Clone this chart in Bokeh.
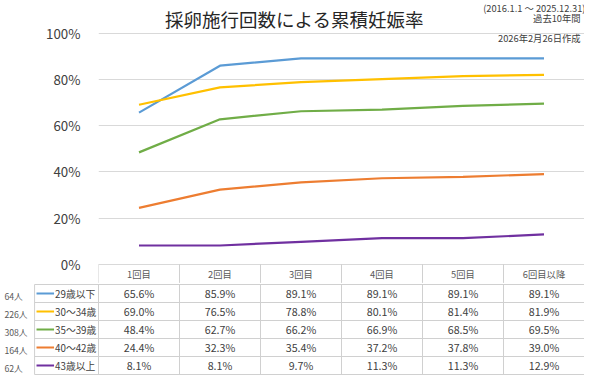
from bokeh.plotting import figure
from bokeh.models import Range1d, FixedTicker, PrintfTickFormatter, Label, ColumnDataSource
from bokeh.embed import file_html
from bokeh.resources import INLINE
from bokeh.core.properties import value

# ---------------- data ----------------
categories = ["1回目", "2回目", "3回目", "4回目", "5回目", "6回目以降"]
groups = ["29歳以下", "30～34歳", "35～39歳", "40～42歳", "43歳以上"]
counts = ["64人", "226人", "308人", "164人", "62人"]
colors = ["#5B9BD5", "#FFC000", "#70AD47", "#ED7D31", "#7030A0"]
rate_u29 = [65.6, 85.9, 89.1, 89.1, 89.1, 89.1]
rate_30_34 = [69.0, 76.5, 78.8, 80.1, 81.4, 81.9]
rate_35_39 = [48.4, 62.7, 66.2, 66.9, 68.5, 69.5]
rate_40_42 = [24.4, 32.3, 35.4, 37.2, 37.8, 39.0]
rate_o43 = [8.1, 8.1, 9.7, 11.3, 11.3, 12.9]
series = [rate_u29, rate_30_34, rate_35_39, rate_40_42, rate_o43]
y_ticks = [0, 20, 40, 60, 80, 100]

title_text = "採卵施行回数による累積妊娠率"
note_period = "(2016.1.1 ～ 2025.12.31)"
note_span = "過去10年間"
note_date = "2026年2月26日作成"

# ---------------- geometry ----------------
W, H = 584, 375
REF_W, REF_H = 600, 391
sx, sy = W / REF_W, H / REF_H
FONT = "Noto Sans CJK JP"
GRID = "#d0d0d0"

ncat = len(categories)
HA = round(295 * sy)          # chart + header row of the data table
HB = H - HA                   # data rows of the table
left = round(101 * sx)
ppx = (W - left) / ncat
x0, x1 = 0.5, ncat + 0.5
ppy = (275 - 34) * sy / 100.0
ystart = -(HA - 275 * sy) / ppy
yend = ystart + HA / ppy
yhead = ystart + 0.6 / ppy    # bottom of header row


def ax(rx):
    return x0 + (rx * sx - left) / ppx


def ay(ry):
    return ystart + (HA - ry * sy) / ppy


# ---------------- chart ----------------
pA = figure(width=W, height=HA, x_range=Range1d(x0, x1), y_range=Range1d(ystart, yend),
            output_backend="svg", toolbar_location=None,
            min_border_left=left, min_border_right=0, min_border_top=0, min_border_bottom=0,
            x_axis_location=None, y_axis_location="left", outline_line_color=None)
yax = pA.yaxis[0]
yax.ticker = FixedTicker(ticks=y_ticks)
yax.formatter = PrintfTickFormatter(format="%d%%")
yax.axis_line_color = None
yax.major_tick_line_color = None
yax.minor_tick_line_color = None
yax.major_label_standoff = 12
yax.major_label_text_font = FONT
yax.major_label_text_font_size = "13.3px"
yax.major_label_text_color = "#404040"
pA.xgrid.visible = False
pA.ygrid.grid_line_color = "#d9d9d9"
pA.ygrid.grid_line_width = 1

xs = list(range(1, ncat + 1))
for vals, col in zip(series, colors):
    src = ColumnDataSource(dict(x=xs, y=vals))
    pA.line("x", "y", source=src, line_color=col, line_width=2.2)

# header row of the data table (inside chart figure, below 0%)
vx = [0.5 + k for k in range(ncat + 1)]
pA.segment(x0=vx, y0=[0] * len(vx), x1=vx, y1=[yhead] * len(vx), line_color=GRID, line_width=1)
hsrc = ColumnDataSource(dict(x=xs, y=[ay(285)] * ncat, t=categories))
pA.text("x", "y", text="t", source=hsrc, text_align="center", text_baseline="middle",
        text_font=value(FONT), text_font_size="9.3px", text_color="#595959")

pA.add_layout(Label(x=ax(302), y=ay(19.5), text=title_text, text_align="center",
                    text_baseline="middle", text_font=FONT, text_font_size="18.5px",
                    text_color="#262626"))
pA.add_layout(Label(x=ax(601), y=ay(7.5), text=note_period, text_align="right",
                    text_baseline="middle", text_font=FONT, text_font_size="9.3px",
                    text_color="#404040"))
pA.add_layout(Label(x=ax(596), y=ay(18.5), text=note_span, text_align="right",
                    text_baseline="middle", text_font=FONT, text_font_size="9.3px",
                    text_color="#404040"))
pA.add_layout(Label(x=ax(596), y=ay(39.5), text=note_date, text_align="right",
                    text_baseline="middle", text_font=FONT, text_font_size="9.3px",
                    text_color="#404040"))

# ---------------- data rows of the table ----------------
nrows = len(groups)
rowpx = (HB - 2) / nrows
xB0 = x1 - W / ppx
pB = figure(width=W, height=HB, x_range=Range1d(xB0, x1),
            y_range=Range1d(-nrows - 1.0 / rowpx, 1.0 / rowpx),
            output_backend="svg", toolbar_location=None,
            min_border_left=0, min_border_right=0, min_border_top=0, min_border_bottom=0,
            x_axis_location=None, y_axis_location=None, outline_line_color=None)
pB.grid.visible = False


def bx(rx):
    return xB0 + rx * sx / ppx


vxb = [bx(35)] + vx
pB.segment(x0=vxb, y0=[0] * len(vxb), x1=vxb, y1=[-nrows] * len(vxb), line_color=GRID, line_width=1)
hy = [-k for k in range(0, nrows + 1)]
pB.segment(x0=[bx(35)] * len(hy), y0=hy, x1=[x1] * len(hy), y1=hy, line_color=GRID, line_width=1)

vx_, vy_, vt_ = [], [], []
for i, vals in enumerate(series):
    for j, v in enumerate(vals):
        vx_.append(j + 1)
        vy_.append(-(i + 0.5))
        vt_.append(f"{v:.1f}%")
vsrc = ColumnDataSource(dict(x=vx_, y=vy_, t=vt_))
pB.text("x", "y", text="t", source=vsrc, text_align="center", text_baseline="middle",
        text_font=value(FONT), text_font_size="10.7px", text_color="#404040")

ry = [-(i + 0.5) for i in range(nrows)]
pB.segment(x0=[bx(37)] * nrows, y0=ry, x1=[bx(55)] * nrows, y1=ry,
           line_color=colors, line_width=2.2)
gsrc = ColumnDataSource(dict(x=[bx(56)] * nrows, y=ry, t=groups))
pB.text("x", "y", text="t", source=gsrc, text_align="left", text_baseline="middle",
        text_font=value(FONT), text_font_size="9.8px", text_color="#404040")
csrc = ColumnDataSource(dict(x=[bx(4)] * nrows, y=[r - 0.15 for r in ry], t=counts))
pB.text("x", "y", text="t", source=csrc, text_align="left", text_baseline="middle",
        text_font=value(FONT), text_font_size="8.7px", text_color="#595959")

open("out.html", "w").write(file_html([pA, pB], INLINE))
